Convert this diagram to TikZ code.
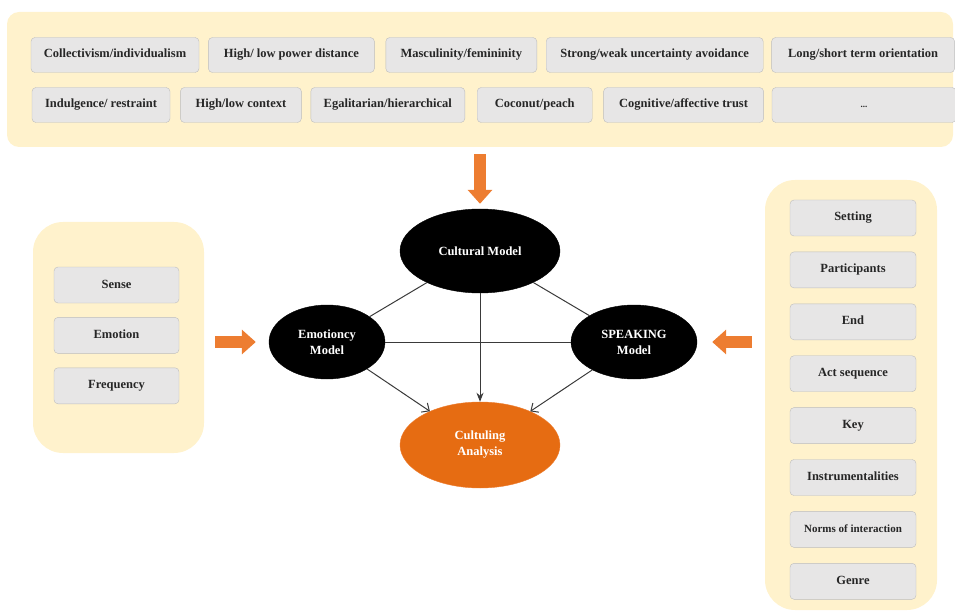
\documentclass[tikz,border=0pt]{standalone}
\usepackage{fontspec}
\setmainfont{Liberation Serif}
\usepackage{xcolor}
\definecolor{mainDark}{HTML}{3A3A3A}
\definecolor{panelBg}{HTML}{FFF2CC}
\definecolor{boxBg}{HTML}{E7E6E6}
\definecolor{boxLine}{HTML}{BDBDBD}
\definecolor{accent}{HTML}{ED7D31}
\definecolor{accentDark}{HTML}{E66C12}
\usepackage{tikz}
\usetikzlibrary{shapes,arrows,positioning,calc,arrows.meta,shapes.misc}
\tikzset{%
  panelBox/.style={%
    rectangle,
    rounded corners=12pt,
    fill=panelBg,
    draw=none
  },
  factorBox/.style={%
    rectangle,
    rounded corners=4pt,
    draw=boxLine,
    fill=boxBg,
    text=black!85,
    minimum height=35pt,
    inner sep=2pt,
    text height=9pt,
    text depth=3pt,
    font=\fontsize{12.5}{14}\selectfont\bfseries
  },
  modelEllipse/.style={%
    ellipse,
    fill=black,
    draw=black,
    text=white,
    inner sep=0pt,
    font=\fontsize{12.5}{16}\selectfont\bfseries,
    align=center
  },
  plainLine/.style={%
    line width=1pt,
    color=mainDark
  },
  arrowLine/.style={%
    -{Stealth[length=9pt,width=7pt]},
    line width=1pt,
    color=mainDark
  },
  openArrow/.style={%
    -{Straight Barb[length=6pt,width=11pt]},
    line width=1pt,
    color=mainDark
  },
  blockArrow/.style={%
    -{Triangle[length=14pt,width=24pt]},
    line width=12pt,
    color=accent
  }
}

\begin{document}
\begin{tikzpicture}[x=1pt, y=-1pt]
            \useasboundingbox (0,0) rectangle (955,612);

            % dimensions banner
            \node[panelBox, minimum width=946pt, minimum height=135pt] (banner) at (480,79.5) {};
            \node[factorBox, minimum width=168pt] (collect) at (115,55) {Collectivism/individualism};
            \node[factorBox, minimum width=166pt, right=9pt of collect] (power) {High/ low power distance};
            \node[factorBox, minimum width=151pt, right=11pt of power] (masc) {Masculinity/femininity};
            \node[factorBox, minimum width=217pt, right=9pt of masc] (uncert) {Strong/weak uncertainty avoidance};
            \node[factorBox, minimum width=183pt, right=8pt of uncert] (orient) {Long/short term orientation};

            \node[factorBox, minimum width=138pt] (indulg) at (101,105) {Indulgence/ restraint};
            \node[factorBox, minimum width=121pt, right=10pt of indulg] (context) {High/low context};
            \node[factorBox, minimum width=154pt, right=9pt of context] (egal) {Egalitarian/hierarchical};
            \node[factorBox, minimum width=115pt, right=12pt of egal] (coconut) {Coconut/peach};
            \node[factorBox, minimum width=160pt, right=11pt of coconut] (trust) {Cognitive/affective trust};
            \node[factorBox, minimum width=184pt, right=8pt of trust] (more) {\fontsize{9}{10}\selectfont ...};

            % emotioncy panel
            \node[panelBox, rounded corners=30pt, minimum width=171pt, minimum height=231pt] (sensePanel) at (118.5,337.5) {};
            \node[factorBox, minimum width=125pt, minimum height=36pt] (sense) at (116.5,285) {Sense};
            \node[factorBox, minimum width=125pt, minimum height=36pt, below=14pt of sense] (emotion) {Emotion};
            \node[factorBox, minimum width=125pt, minimum height=36pt, below=14pt of emotion] (freq) {Frequency};

            % speaking panel
            \node[panelBox, rounded corners=30pt, minimum width=172pt, minimum height=430pt] (speakPanel) at (851,395) {};
            \node[factorBox, minimum width=126pt, minimum height=36pt] (setting) at (853,218) {Setting};
            \node[factorBox, minimum width=126pt, minimum height=36pt, below=15.5pt of setting] (partic) {Participants};
            \node[factorBox, minimum width=126pt, minimum height=36pt, below=15.5pt of partic] (ends) {End};
            \node[factorBox, minimum width=126pt, minimum height=36pt, below=15.5pt of ends] (actseq) {Act sequence};
            \node[factorBox, minimum width=126pt, minimum height=36pt, below=15.5pt of actseq] (keys) {Key};
            \node[factorBox, minimum width=126pt, minimum height=36pt, below=15.5pt of keys] (instr) {Instrumentalities};
            \node[factorBox, minimum width=126pt, minimum height=36pt, below=15.5pt of instr, font=\fontsize{11}{13}\selectfont\bfseries] (norms) {Norms of interaction};
            \node[factorBox, minimum width=126pt, minimum height=36pt, below=15.5pt of norms] (genre) {Genre};

            % models
            \node[modelEllipse, minimum width=160pt, minimum height=84pt] (cultural) at (480,251) {Cultural Model};
            \node[modelEllipse, minimum width=116pt, minimum height=74pt] (emotioncy) at (327,342) {Emotioncy\\Model};
            \node[modelEllipse, minimum width=126pt, minimum height=74pt] (speaking) at (634,342) {SPEAKING\\Model};
            \node[modelEllipse, fill=accentDark, draw=accent, minimum width=160pt, minimum height=86pt] (analysis) at (480,445) {Cultuling\\Analysis};

            \draw[plainLine] (cultural) -- (emotioncy);
            \draw[plainLine] (cultural) -- (speaking);
            \draw[plainLine] (emotioncy) -- (speaking);
            \draw[arrowLine] (cultural) -- (analysis);
            \draw[openArrow] (emotioncy) -- (analysis);
            \draw[openArrow] (speaking) -- (analysis);

            % orange inputs
            \draw[blockArrow, shorten <=7pt, shorten >=5pt] (banner.south) -- (cultural.north);
            \draw[blockArrow, shorten <=11pt, shorten >=13pt] (sensePanel.east |- emotioncy.west) -- (emotioncy.west);
            \draw[blockArrow, shorten <=13pt, shorten >=15pt] (speakPanel.west |- speaking.east) -- (speaking.east);

        \end{tikzpicture}
\end{document}
